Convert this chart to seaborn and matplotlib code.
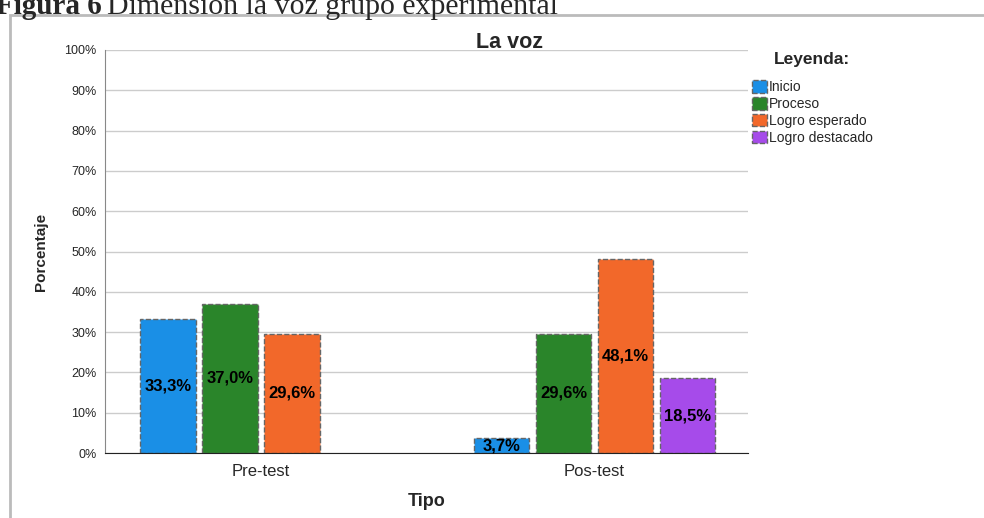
import pandas as pd
import seaborn as sns
import matplotlib.pyplot as plt
from matplotlib.patches import Patch, Rectangle

# data
tipos = ['Pre-test', 'Pos-test']
niveles = ['Inicio', 'Proceso', 'Logro esperado', 'Logro destacado']
pre_test = [33.3, 37.0, 29.6, 0.0]
pos_test = [3.7, 29.6, 48.1, 18.5]
colores = ['#1a8fe6', '#2a852a', '#f2682a', '#a64bea']

rows = []
for nivel, a, b in zip(niveles, pre_test, pos_test):
    rows.append({'Tipo': 'Pre-test', 'Nivel': nivel, 'Porcentaje': a})
    rows.append({'Tipo': 'Pos-test', 'Nivel': nivel, 'Porcentaje': b})
df = pd.DataFrame(rows)

sns.set_style('white')
plt.rcParams['font.family'] = ['Liberation Sans', 'DejaVu Sans']

fig = plt.figure(figsize=(9.84, 5.18), dpi=100)
ax = fig.add_axes([105/984, 1-453/518, (748-105)/984, (453-50)/518])

sns.barplot(data=df, x='Tipo', y='Porcentaje', hue='Nivel', order=tipos,
            hue_order=niveles, palette=colores, width=0.743, gap=0.1,
            saturation=1, edgecolor='#666666', linewidth=1, linestyle='--',
            legend=False, ax=ax)

for cont in ax.containers:
    for bar, v in zip(cont.patches, cont.datavalues):
        if v == 0:
            bar.set_visible(False)
    labels = [f'{v:.1f}%'.replace('.', ',') if v > 0 else '' for v in cont.datavalues]
    ax.bar_label(cont, labels=labels, label_type='center', fontsize=12,
                 fontweight='bold', color='black')

ax.set_ylim(0, 100)
ax.set_xlim(-0.467, 1.46)
ax.set_yticks(range(0, 101, 10))
ax.set_yticklabels([f'{t}%' for t in range(0, 101, 10)], fontsize=9)
ax.tick_params(axis='y', length=4, width=0.8, color='#888888', pad=2)
ax.tick_params(axis='x', length=0, labelsize=12, pad=8)
ax.yaxis.grid(True, color='#cccccc', linewidth=1)
ax.set_axisbelow(True)
for s in ['top', 'right']:
    ax.spines[s].set_visible(False)
ax.spines['left'].set_color('#888888')
ax.spines['bottom'].set_color('#222222')
ax.set_xlabel('Tipo', fontsize=13, fontweight='bold', labelpad=10)
ax.set_ylabel('Porcentaje', fontsize=11, fontweight='bold', labelpad=12)

fig.text(510/984, 1-42/518, 'La voz', ha='center', va='center',
         fontsize=15.5, fontweight='bold')

handles = [Patch(facecolor=c, edgecolor='#666666', linestyle='--', linewidth=1)
           for c in colores]
leg = fig.legend(handles, niveles, loc='upper left',
                 bbox_to_anchor=(746/984, 1-46/518), frameon=False,
                 fontsize=10, handlelength=1.1, handleheight=1.0,
                 handletextpad=0.15, labelspacing=0.2, borderaxespad=0,
                 title='Leyenda:', title_fontproperties={'weight': 'bold', 'size': 12.5})
leg._legend_box.align = 'center'
leg._legend_box.sep = 10

# figure caption (cut at the top, as in the source) and the grey frame
fig.text(-4/984, 1-14/518, 'Figura 6', fontfamily='Liberation Serif',
         fontweight='bold', fontsize=21, va='baseline', ha='left')
fig.text(107/984, 1-14/518, 'Dimensión la voz grupo experimental',
         fontfamily='Liberation Serif', fontsize=21.5, va='baseline', ha='left')
fig.patches.append(Rectangle((10/984, -0.05), 1.2, (518-15)/518 + 0.05,
                             transform=fig.transFigure, fill=False,
                             edgecolor='#bbbbbb', linewidth=2))

plt.savefig('out.png', dpi=100)
